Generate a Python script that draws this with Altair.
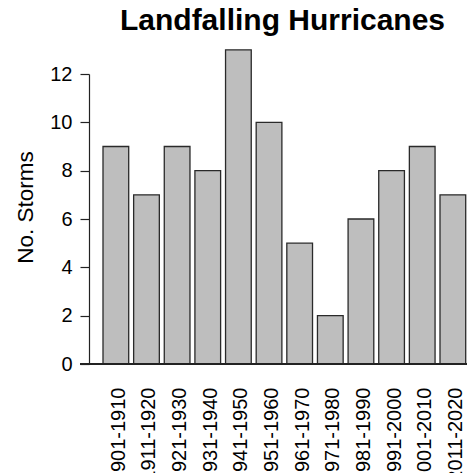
import altair as alt
import pandas as pd

decades = ["1901-1910", "1911-1920", "1921-1930", "1931-1940", "1941-1950", "1951-1960",
           "1961-1970", "1971-1980", "1981-1990", "1991-2000", "2001-2010", "2011-2020"]
storms = [9, 7, 9, 8, 13, 10, 5, 2, 6, 8, 9, 7]

df = pd.DataFrame({"decade": decades, "storms": storms})

FONT = "Liberation Sans"
W, H = 379, 290

xscale = alt.Scale(domain=decades, paddingInner=0.161, paddingOuter=0.266, align=0.859)
yscale = alt.Scale(domain=[0, 12], nice=False, zero=True)

bars = alt.Chart(df).mark_bar(
    fill="#BEBEBE", stroke="#2a2a2a", strokeWidth=1.3
).encode(
    x=alt.X("decade:N", scale=xscale, sort=decades,
            axis=alt.Axis(title=None, labelAngle=270, domain=False, ticks=False, tickSize=0,
                          labelPadding=23, labelOffset=3, labelFont=FONT, labelFontSize=20,
                          labelColor="#000000", labelOverlap=False)),
    y=alt.Y("storms:Q", scale=yscale,
            axis=alt.Axis(title="No. Storms", values=[0, 2, 4, 6, 8, 10, 12], grid=False,
                          domainColor="#222222", domainWidth=1.2, tickColor="#222222",
                          tickWidth=1.2, tickSize=9, labelPadding=8, labelFont=FONT,
                          labelFontSize=20, labelColor="#000000", titleFont=FONT,
                          titleFontSize=22.5, titleFontWeight="normal", titleColor="#000000",
                          titleX=-57, titleY=133, titleAngle=270, titleAlign="center",
                          titleBaseline="alphabetic")),
)

baseline = alt.Chart(df).mark_rule(color="#222222", strokeWidth=1.2).encode(
    x=alt.value(-9), x2=alt.value(378), y=alt.datum(0, scale=yscale)
)

chart = alt.layer(bars, baseline).properties(
    width=W, height=H,
    title=alt.TitleParams("Landfalling Hurricanes", font=FONT, fontSize=30, fontWeight="bold",
                          color="#000000", anchor="middle", frame="group", dx=4, offset=13),
    autosize="none",
    padding={"left": 81, "top": 66, "right": 0, "bottom": 109},
).configure_view(stroke=None)

chart.save("out.html", embed_options={"renderer": "svg", "actions": False})
